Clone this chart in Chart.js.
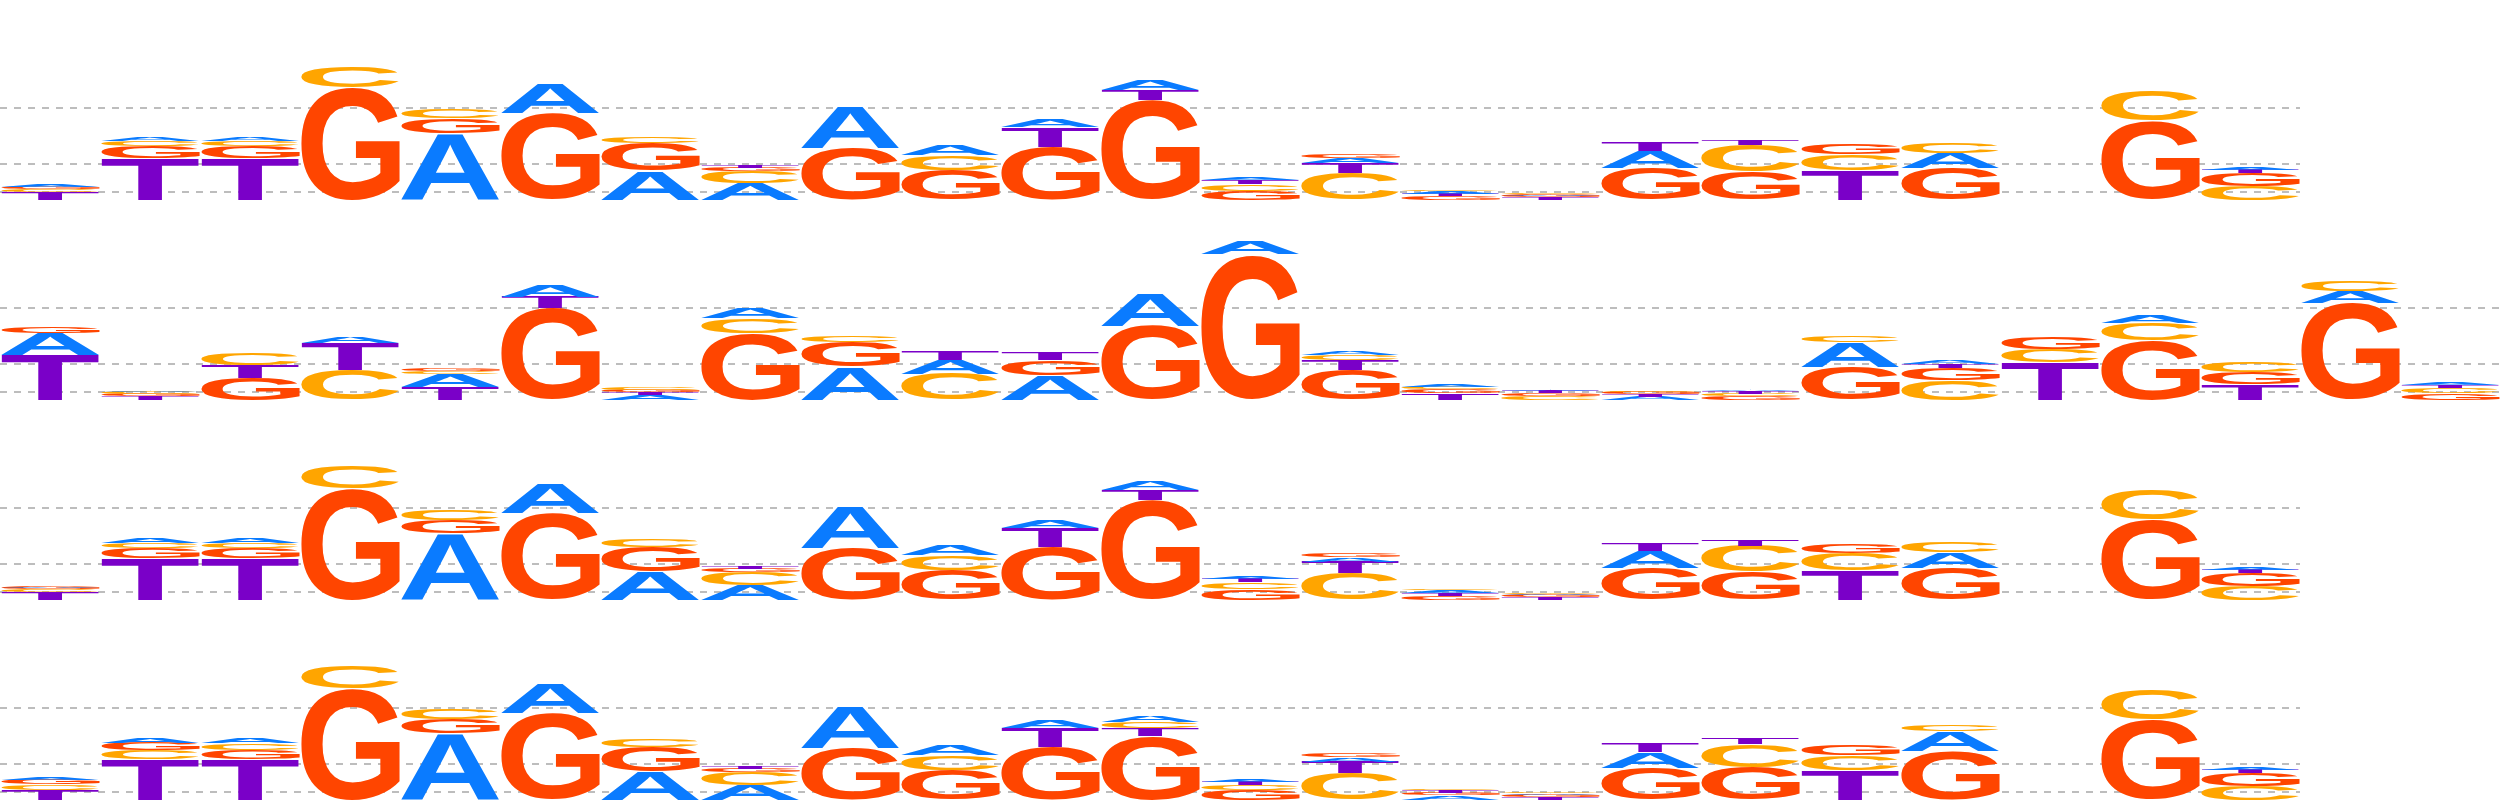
<!DOCTYPE html>
<html>
<head>
<meta charset="utf-8">
<script src="https://cdn.jsdelivr.net/npm/chart.js@4.4.1/dist/chart.umd.min.js"></script>
<style>
html,body{margin:0;padding:0;background:#ffffff;width:2500px;height:800px;overflow:hidden}
canvas{display:block}
</style>
</head>
<body>
<canvas id="row1" width="2300" height="200" style="width:2300px;height:200px"></canvas>
<canvas id="row2" width="2500" height="200" style="width:2500px;height:200px"></canvas>
<canvas id="row3" width="2300" height="200" style="width:2300px;height:200px"></canvas>
<canvas id="row4" width="2300" height="200" style="width:2300px;height:200px"></canvas>
<script>
// ---------- data (heights in bits) ----------
const letters = ['A', 'C', 'G', 'T'];
const gridValues = [0.085, 0.36, 0.925];

const positions23 = ['1','2','3','4','5','6','7','8','9','10','11','12','13','14','15','16','17','18','19','20','21','22','23'];
const positions25 = ['1','2','3','4','5','6','7','8','9','10','11','12','13','14','15','16','17','18','19','20','21','22','23','24','25'];

// Row 1
const row1A = [0.02, 0.045, 0.045, 0, 0.67, 0.30, 0.29, 0.17, 0.42, 0.10, 0.08, 0.10, 0.025, 0.05, 0.02, 0.01, 0.17, 0, 0, 0.15, 0, 0, 0.03];
const row1C = [0.025, 0.05, 0.05, 0.21, 0.09, 0, 0.06, 0.12, 0, 0.15, 0, 0, 0.07, 0.27, 0.01, 0.005, 0, 0.27, 0.16, 0.11, 0, 0.31, 0.14];
const row1G = [0.022, 0.12, 0.12, 1.13, 0.15, 0.87, 0.28, 0.035, 0.52, 0.30, 0.53, 1.00, 0.09, 0.04, 0.04, 0.02, 0.32, 0.28, 0.10, 0.32, 0, 0.79, 0.13];
const row1T = [0.08, 0.42, 0.42, 0, 0, 0, 0, 0.03, 0, 0, 0.20, 0.105, 0.045, 0.10, 0.025, 0.025, 0.09, 0.05, 0.30, 0, 0, 0, 0.035];

// Row 2
const row2A = [0.22, 0.015, 0, 0.07, 0.125, 0.11, 0.05, 0.10, 0.33, 0.14, 0.25, 0.32, 0.13, 0.045, 0.02, 0.01, 0.035, 0.01, 0.25, 0.04, 0, 0.08, 0, 0.12, 0.02];
const row2C = [0, 0.02, 0.12, 0.30, 0.03, 0, 0.02, 0.15, 0.06, 0.26, 0, 0, 0, 0.055, 0.03, 0.04, 0.01, 0.03, 0.06, 0.20, 0.13, 0.17, 0.11, 0.10, 0.05];
const row2G = [0.07, 0.022, 0.22, 0, 0.028, 0.92, 0.022, 0.67, 0.25, 0, 0.15, 0.74, 1.46, 0.30, 0.035, 0.03, 0.02, 0.035, 0.33, 0.12, 0.12, 0.60, 0.12, 0.97, 0.07];
const row2T = [0.45, 0.04, 0.13, 0.27, 0.13, 0.115, 0.03, 0, 0, 0.09, 0.08, 0, 0, 0.10, 0.07, 0.025, 0.025, 0.025, 0, 0.042, 0.38, 0, 0.16, 0, 0.03];

// Row 3
const row3A = [0.015, 0.05, 0.05, 0, 0.67, 0.30, 0.28, 0.15, 0.42, 0.10, 0.08, 0.095, 0.025, 0.045, 0.02, 0.01, 0.17, 0, 0, 0.16, 0, 0, 0.03];
const row3C = [0.025, 0.055, 0.055, 0.22, 0.10, 0, 0.08, 0.13, 0, 0.15, 0, 0, 0.07, 0.27, 0.01, 0.005, 0, 0.26, 0.17, 0.10, 0, 0.30, 0.14];
const row3G = [0.02, 0.10, 0.10, 1.12, 0.13, 0.87, 0.25, 0.035, 0.52, 0.30, 0.53, 1.00, 0.11, 0.04, 0.045, 0.02, 0.32, 0.28, 0.09, 0.32, 0, 0.80, 0.13];
const row3T = [0.08, 0.42, 0.42, 0, 0, 0, 0, 0.03, 0, 0, 0.19, 0.10, 0.035, 0.11, 0.03, 0.03, 0.08, 0.06, 0.30, 0, 0, 0, 0.035];

// Row 4
const row4A = [0.03, 0.05, 0.05, 0, 0.67, 0.30, 0.28, 0.15, 0.42, 0.10, 0.08, 0.06, 0.025, 0.045, 0.045, 0.015, 0.16, 0, 0, 0.20, 0, 0, 0.03];
const row4C = [0.055, 0.09, 0.07, 0.22, 0.10, 0, 0.08, 0.13, 0, 0.15, 0, 0.065, 0.05, 0.27, 0.01, 0.005, 0, 0.23, 0.15, 0.07, 0, 0.30, 0.14];
const row4G = [0.05, 0.075, 0.09, 1.12, 0.14, 0.87, 0.25, 0.035, 0.52, 0.30, 0.53, 0.64, 0.10, 0.04, 0.03, 0.02, 0.32, 0.33, 0.10, 0.49, 0, 0.80, 0.13];
const row4T = [0.10, 0.41, 0.41, 0, 0, 0, 0, 0.03, 0, 0, 0.19, 0.08, 0.035, 0.11, 0.025, 0.03, 0.09, 0.06, 0.30, 0, 0, 0, 0.035];

// ---------- styling ----------
const letterColors = { A: '#0A7BFF', C: '#FFA500', G: '#FF4500', T: '#7A00C8' };
const FONT = 'bold 400px "Liberation Sans", Arial, sans-serif';

const glyphCache = {};
function glyphMetrics(ch) {
  if (glyphCache[ch]) return glyphCache[ch];
  const c = document.createElement('canvas');
  const cx = c.getContext('2d');
  cx.font = FONT;
  const m = cx.measureText(ch);
  const g = {
    left: m.actualBoundingBoxLeft,
    ascent: m.actualBoundingBoxAscent,
    w: m.actualBoundingBoxLeft + m.actualBoundingBoxRight,
    h: m.actualBoundingBoxAscent + m.actualBoundingBoxDescent
  };
  glyphCache[ch] = g;
  return g;
}

function drawLetter(ctx, ch, x, y, w, h) {
  const m = glyphMetrics(ch);
  ctx.save();
  ctx.translate(x, y);
  ctx.scale(w / m.w, h / m.h);
  ctx.font = FONT;
  ctx.textAlign = 'left';
  ctx.textBaseline = 'alphabetic';
  ctx.fillStyle = letterColors[ch];
  ctx.fillText(ch, m.left, m.ascent);
  ctx.restore();
}

const logoPlugin = {
  id: 'logoLetters',
  afterDatasetsDraw(chart) {
    const ctx = chart.ctx;
    chart.data.datasets.forEach((ds, di) => {
      const meta = chart.getDatasetMeta(di);
      meta.data.forEach((bar, i) => {
        const v = ds.data[i];
        if (!v) return;
        const p = bar.getProps(['x', 'y', 'base', 'width'], true);
        const top = Math.min(p.y, p.base);
        const h = Math.abs(p.base - p.y);
        if (h <= 0) return;
        drawLetter(ctx, ds.letters[i], p.x - p.width / 2, top, p.width, h);
      });
    });
  }
};

// build stacked datasets: rank 0 (largest) at the bottom
function buildDatasets(rowData) {
  const n = rowData.A.length;
  const ranks = [[], [], [], []];
  const labs = [[], [], [], []];
  for (let i = 0; i < n; i++) {
    const items = letters.map(l => ({ l: l, v: rowData[l][i] })).sort((a, b) => b.v - a.v);
    items.forEach((it, k) => { ranks[k].push(it.v); labs[k].push(it.l); });
  }
  return ranks.map((d, k) => ({
    label: 'rank' + k,
    data: d,
    letters: labs[k],
    backgroundColor: 'rgba(0,0,0,0)',
    borderWidth: 0,
    barPercentage: 1,
    categoryPercentage: 1,
    stack: 'logo'
  }));
}

function makeRow(id, labels, rowData) {
  return new Chart(document.getElementById(id), {
    type: 'bar',
    data: { labels: labels, datasets: buildDatasets(rowData) },
    options: {
      responsive: false,
      animation: false,
      devicePixelRatio: 1,
      layout: { padding: 0 },
      plugins: { legend: { display: false }, tooltip: { enabled: false } },
      scales: {
        x: { type: 'category', display: false, stacked: true, offset: true, grid: { display: false } },
        y: {
          stacked: true, min: 0, max: 2, display: true,
          afterBuildTicks: s => { s.ticks = gridValues.map(v => ({ value: v })); },
          ticks: { display: false },
          grid: { drawTicks: false, color: '#BDBDBD', lineWidth: 2 },
          border: { display: false, dash: [7, 7] }
        }
      }
    },
    plugins: [logoPlugin]
  });
}

makeRow('row1', positions23, { A: row1A, C: row1C, G: row1G, T: row1T });
makeRow('row2', positions25, { A: row2A, C: row2C, G: row2G, T: row2T });
makeRow('row3', positions23, { A: row3A, C: row3C, G: row3G, T: row3T });
makeRow('row4', positions23, { A: row4A, C: row4C, G: row4G, T: row4T });
</script>
</body>
</html>
